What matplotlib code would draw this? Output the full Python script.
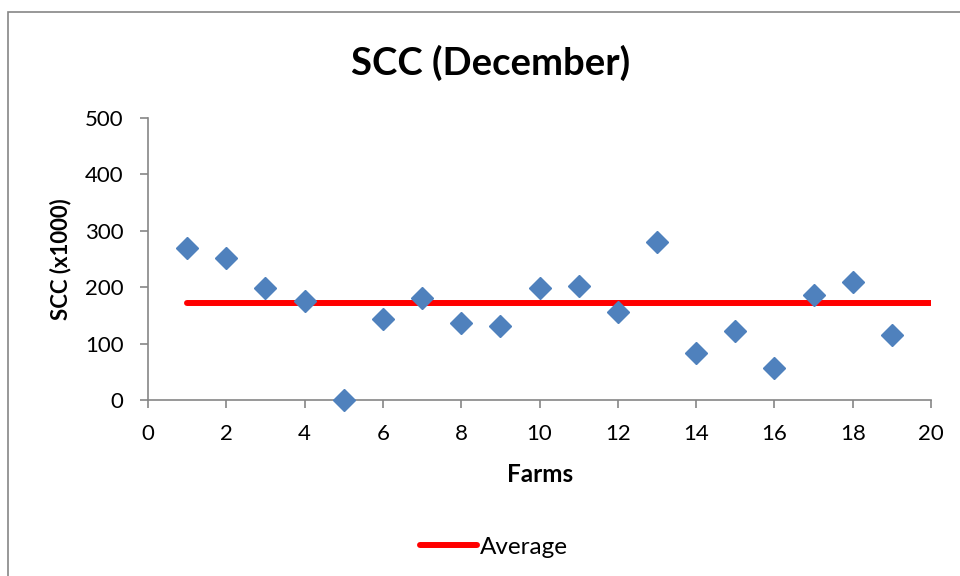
import matplotlib
matplotlib.use("Agg")
import matplotlib.pyplot as plt
from matplotlib.patches import Rectangle

# data
farms = [1, 2, 3, 4, 5, 6, 7, 8, 9, 10, 11, 12, 13, 14, 15, 16, 17, 18, 19]
scc = [270, 252, 198, 176, 0, 143, 180, 136, 132, 198,
       203, 156, 280, 83, 122, 56, 187, 210, 115]
avg_x = [1, 20]
avg_y = [172, 172]

plt.rcParams['font.family'] = ['Lato', 'DejaVu Sans']
grey = '#868686'

fig = plt.figure(figsize=(9.6, 5.76), dpi=100)
ax = fig.add_axes([148 / 960, 1 - 400 / 576, (931 - 148) / 960, (400 - 118) / 576])

# outer chart border (cropped at right/bottom)
fig.patches.append(Rectangle((8 / 960, -0.1), 2.0, 1 - 12 / 576 + 0.1,
                             transform=fig.transFigure, fill=False,
                             edgecolor=grey, linewidth=1.2))

ax.plot(farms, scc, linestyle='none', marker='D', markersize=11,
        color='#4F81BD', markeredgecolor='#4F81BD', zorder=3, clip_on=False)
line, = ax.plot(avg_x, avg_y, color='#FF0000', linewidth=4.3,
                solid_capstyle='round', zorder=2, label='Average')

ax.set_xlim(0, 20)
ax.set_ylim(0, 500)
ax.set_xticks(range(0, 21, 2))
ax.set_yticks(range(0, 501, 100))
ax.tick_params(direction='out', length=5.5, width=1.2, color=grey,
               labelsize=16, pad=12)
for side in ['top', 'right']:
    ax.spines[side].set_visible(False)
for side in ['left', 'bottom']:
    ax.spines[side].set_color(grey)
    ax.spines[side].set_linewidth(1.2)

fig.text(491 / 960, 1 - 63 / 576, 'SCC (December)', ha='center', va='center',
         fontsize=27.5, fontweight='bold')

ax.set_xlabel('Farms', fontsize=17.5, fontweight='bold')
ax.xaxis.set_label_coords((540 - 148) / 783, (400 - 475) / 282)
ax.xaxis.label.set_va('center')
ax.set_ylabel('SCC (x1000)', fontsize=16, fontweight='bold')
ax.yaxis.set_label_coords((61 - 148) / 783, (400 - 259) / 282)
ax.yaxis.label.set_va('center')

fig.legend(handles=[line], loc='center', bbox_to_anchor=(494 / 960, 1 - 547 / 576),
           frameon=False, fontsize=17.5, handlelength=2.35, handletextpad=0.12)

fig.savefig('out.png', dpi=100)
